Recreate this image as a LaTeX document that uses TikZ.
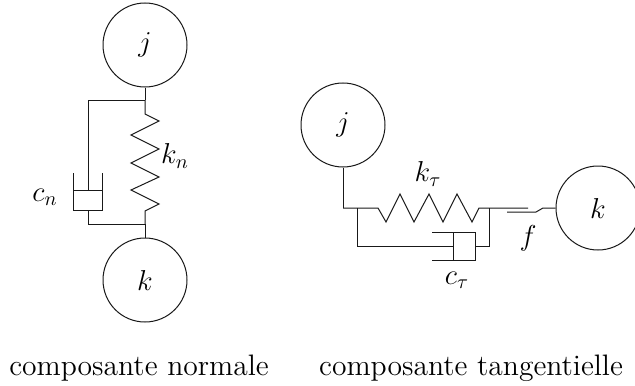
\documentclass[tikz,border=0pt]{standalone}
\usepackage{tikz}
\tikzset{
  mass/.style={circle,draw=black!90,line width=0.5pt,minimum size=42pt,inner sep=0pt,font=\Large},
  lien/.style={line width=0.5pt,black!90},
  lab/.style={inner sep=0pt,font=\Large},
  legende/.style={inner sep=0pt,font=\fontsize{14.8}{17}\selectfont},
}
\begin{document}
\begin{tikzpicture}[x=0.5pt,y=-0.5pt]
  \useasboundingbox (0,0) rectangle (635,385);
  % composante normale
  \node[mass] (jn) at (145,45){$j$};
  \node[mass] (kn) at (145,280){$k$};
  \coordinate (hn) at (145,100);
  \coordinate (bn) at (145,224);
  \draw[lien] (jn)--(hn);
  \draw[lien] (bn)--(kn);
  \draw[lien] (hn)--(145,114)--(159,121)--(131,135)--(159,149)--(131,163)--(159,177)--(131,190)--(159,204)--(145,211)--(bn);
  \draw[lien] (hn)--(88,100)--(88,190);
  \draw[lien] (73,173)--(73,210)--(102,210)--(102,173);
  \draw[lien] (73,190)--(102,190);
  \draw[lien] (88,210)--(88,224)--(bn);
  \node[lab] (kln) at (175,156){$k_n$};
  \node[lab] (cln) at (45,197){$c_n$};
  % composante tangentielle
  \node[mass] (jt) at (343,125){$j$};
  \node[mass] (kt) at (598,208){$k$};
  \coordinate (ht) at (343,208);
  \draw[lien] (jt)--(ht);
  \draw[lien] (ht)--(378,208)--(386,222)--(400,194)--(414,222)--(429,194)--(443,222)--(457,194)--(472,222)--(479,208)--(528,208);
  \draw[lien] (489,208)--(489,246)--(475,246);
  \draw[lien] (357,208)--(357,246)--(453,246);
  \draw[lien] (432,232)--(475,232)--(475,260)--(432,260);
  \draw[lien] (453,232)--(453,260);
  \node[lab] (klt) at (428,174){$k_\tau$};
  \node[lab] (clt) at (457,280){$c_\tau$};
  \node[lab] (flt) at (528,238){$f$};
  \coordinate (ft) at (543,208);
  \draw[lien] (507,212)--(536,212)--(ft)--(kt);
  % legendes
  \node[legende] (ln) at (139,368){composante normale};
  \node[legende] (lt) at (471,368){composante tangentielle};
\end{tikzpicture}
\end{document}
